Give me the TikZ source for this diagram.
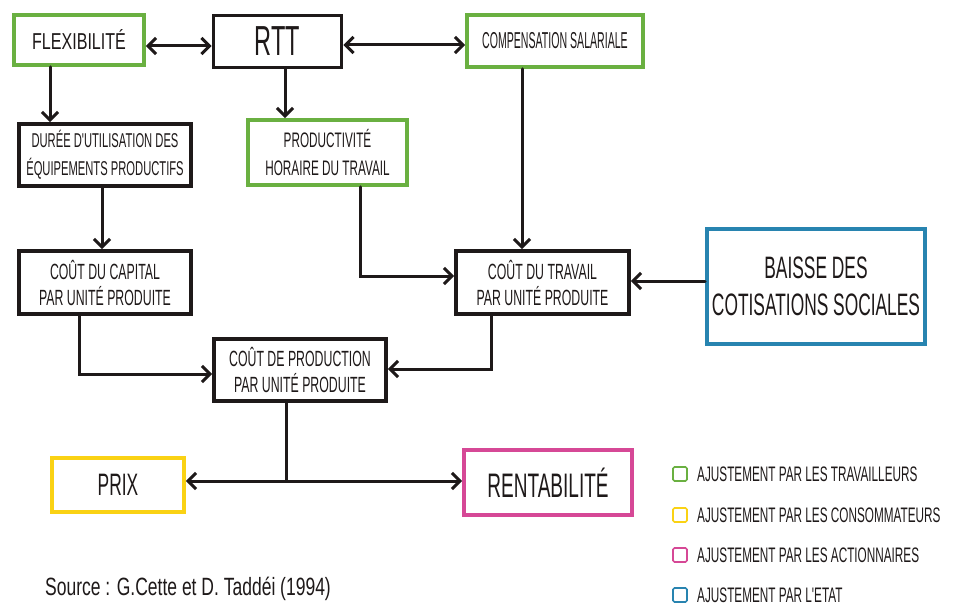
\documentclass[tikz,border=0pt]{standalone}
\usepackage{fontspec}
\setmainfont[FakeStretch=0.7]{Liberation Sans}
\newfontfamily\fb[FakeStretch=0.56]{Liberation Sans}
\newfontfamily\fc[FakeStretch=0.46]{Liberation Sans}
\usetikzlibrary{arrows.meta}
\definecolor{cgreen}{RGB}{106,176,65}
\definecolor{cyellow}{RGB}{250,210,20}
\definecolor{cpink}{RGB}{214,72,150}
\definecolor{cblue}{RGB}{40,132,176}
\definecolor{ink}{RGB}{30,25,25}
\newcommand{\fsz}[2]{\fontsize{#1}{#2}\selectfont}
\begin{document}
\begin{tikzpicture}[x=1pt,y=-1pt,
  box/.style={draw=ink, line width=3.8pt, inner sep=0pt, align=center, text=ink},
  arr/.style={draw=ink, line width=3pt, line cap=round, -{Straight Barb[length=8pt,width=16pt]}},
  darr/.style={draw=ink, line width=3pt, line cap=round, {Straight Barb[length=8pt,width=16pt]}-{Straight Barb[length=8pt,width=16pt]}},
  plain/.style={draw=ink, line width=3pt, line cap=round},
  lsq/.style={draw, line width=1.6pt, rounded corners=1.5pt, minimum size=14pt, inner sep=0pt},
  ltxt/.style={anchor=west, text=ink, inner sep=0pt, font=\fb\fsz{21}{23}}]
\useasboundingbox (0,0) rectangle (961,607);
\fill[white] (0,0) rectangle (961,607);

\node[box, draw=cgreen, minimum width=130pt, minimum height=50pt, font=\fsz{23}{25}] (flex) at (79,40) {FLEXIBILITÉ};
\node[box, minimum width=128pt, minimum height=52pt, font=\fb\fsz{42}{44}] (rtt) at (277.5,41.5) {RTT};
\node[box, draw=cgreen, minimum width=176pt, minimum height=52pt, font=\fc\fsz{23}{25}] (comp) at (555,41) {COMPENSATION SALARIALE};
\node[box, minimum width=172pt, minimum height=62pt, font=\fb\fsz{20}{28}] (duree) at (105,155) {DURÉE D'UTILISATION DES\\ÉQUIPEMENTS PRODUCTIFS};
\node[box, draw=cgreen, minimum width=159pt, minimum height=65pt, font=\fb\fsz{21}{28}] (prod) at (327.5,152.5) {PRODUCTIVITÉ\\HORAIRE DU TRAVAIL};
\node[box, minimum width=172pt, minimum height=63pt, font=\fb\fsz{22}{26}] (capital) at (105,282.5) {COÛT DU CAPITAL\\PAR UNITÉ PRODUITE};
\node[box, minimum width=173pt, minimum height=63pt, font=\fb\fsz{22}{26}] (travail) at (542.5,282.5) {COÛT DU TRAVAIL\\PAR UNITÉ PRODUITE};
\node[box, draw=cblue, minimum width=218pt, minimum height=115pt, font=\fb\fsz{31}{37}] (baisse) at (816,286.5) {BAISSE DES\\COTISATIONS SOCIALES};
\node[box, minimum width=172pt, minimum height=62pt, font=\fb\fsz{22}{26}] (cprod) at (300,370) {COÛT DE PRODUCTION\\PAR UNITÉ PRODUITE};
\node[box, draw=cyellow, minimum width=132pt, minimum height=54pt, font=\fb\fsz{31}{33}] (prix) at (118,485) {PRIX};
\node[box, draw=cpink, minimum width=168pt, minimum height=65pt, font=\fb\fsz{34}{36}] (rent) at (548,482.5) {RENTABILITÉ};

\draw[darr] (flex.east |- 0,46) -- (rtt.west |- 0,46);
\draw[darr] (rtt.east |- 0,45) -- (comp.west |- 0,45);
\draw[arr] (flex.south -| 50,0) -- (duree.north -| 50,0);
\draw[arr] (rtt.south -| 285,0) -- (prod.north -| 285,0);
\draw[arr] (duree.south -| 102,0) -- (capital.north -| 102,0);
\draw[arr] (prod.south -| 360,0) |- (travail.west |- 0,276);
\draw[arr] (comp.south -| 522,0) -- (travail.north -| 522,0);
\draw[arr] (baisse.west |- 0,281) -- (travail.east |- 0,281);
\draw[arr] (capital.south -| 79,0) |- (cprod.west |- 0,374);
\draw[arr] (travail.south -| 491,0) |- (cprod.east |- 0,369);
\coordinate (j) at (286,481);
\draw[plain] (cprod.south -| j) -- (j);
\draw[arr] (j) -- (prix.east |- j);
\draw[arr] (j) -- (rent.west |- j);

\node[lsq, draw=cgreen] (l1) at (680,474) {};
\node[lsq, draw=cyellow] (l2) at (680,515) {};
\node[lsq, draw=cpink] (l3) at (680,555) {};
\node[lsq, draw=cblue] (l4) at (680,595) {};
\node[ltxt] (t1) at (697,474) {AJUSTEMENT PAR LES TRAVAILLEURS};
\node[ltxt] (t2) at (697,515) {AJUSTEMENT PAR LES CONSOMMATEURS};
\node[ltxt] (t3) at (697,555) {AJUSTEMENT PAR LES ACTIONNAIRES};
\node[ltxt] (t4) at (697,595) {AJUSTEMENT PAR L'ETAT};

\node[anchor=west, inner sep=0pt, text=ink, font=\fsz{25}{27}] (src) at (45,589) {Source : G.Cette et D. Taddéi (1994)};
\end{tikzpicture}
\end{document}
